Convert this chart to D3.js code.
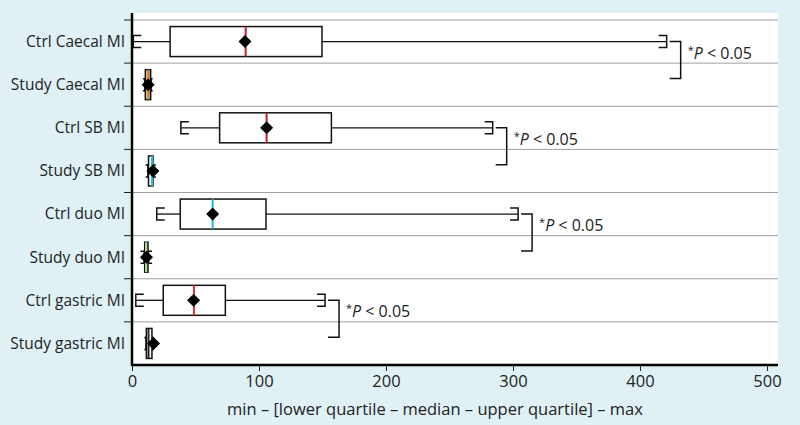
<!DOCTYPE html>
<html>
<head>
<meta charset="utf-8">
<script src="https://cdn.jsdelivr.net/npm/d3@7"></script>
<style>
  html, body { margin: 0; padding: 0; background: #dff1f5; }
  svg { display: block; font-family: "Open Sans", sans-serif; }
</style>
</head>
<body>
<svg id="chart" width="800" height="425"></svg>
<script>
const categories = [
  "Ctrl Caecal MI", "Study Caecal MI", "Ctrl SB MI", "Study SB MI",
  "Ctrl duo MI", "Study duo MI", "Ctrl gastric MI", "Study gastric MI",
];
const minValues = [1, 10, 38.5, 12.5, 19.5, 9.5, 3, 11];
const q1Values = [30, 10.5, 69, 13, 38, 10, 24.6, 11.3];
const medianValues = [89.5, 13, 106, 15.7, 63.5, 11, 48.8, 13];
const q3Values = [149.6, 14.7, 157, 16.5, 105.5, 12.6, 73.5, 15.7];
const maxValues = [421, 15, 284, 17, 304, 13, 152, 16];
const meanValues = [89, 12.7, 106, 16.5, 63.5, 11.4, 48.5, 17];
const xTicks = [0, 100, 200, 300, 400, 500];
const xTitle = "min – [lower quartile – median – upper quartile] – max";
// pairs that get a significance bracket: [ctrl row, study row]
const sigPairs = [
  ["Ctrl Caecal MI", "Study Caecal MI"],
  ["Ctrl SB MI", "Study SB MI"],
  ["Ctrl duo MI", "Study duo MI"],
  ["Ctrl gastric MI", "Study gastric MI"],
];

const medianColor = {
  "Ctrl Caecal MI": "#b8262b", "Study Caecal MI": "#b8762b",
  "Ctrl SB MI": "#b8262b", "Study SB MI": "#2ec4d8",
  "Ctrl duo MI": "#2ab4cc", "Study duo MI": "#a9d88e",
  "Ctrl gastric MI": "#e0303a", "Study gastric MI": "#222",
};
const boxFill = {
  "Study Caecal MI": "#f4c08c",
  "Study duo MI": "#e2f3d6",
};

const rows = categories.map((name, i) => ({
  name,
  min: minValues[i], q1: q1Values[i], median: medianValues[i],
  q3: q3Values[i], max: maxValues[i], mean: meanValues[i],
}));
const byName = new Map(rows.map((d) => [d.name, d]));

const plot = { left: 132, right: 778, top: 13, bottom: 365, bandTop: 20 };

const svg = d3.select("#chart");

const x = d3.scaleLinear().domain([0, 500]).range([132, 767]);
const y = d3.scaleBand().domain(categories).range([plot.bandTop, plot.bottom]).paddingInner(0);
const bw = y.bandwidth();
const cy = (name) => y(name) + bw / 2;
const boxH = 30;
const capH = 6;
const capW = 8;

svg.append("rect")
  .attr("x", plot.left).attr("y", plot.top)
  .attr("width", plot.right - plot.left).attr("height", plot.bottom - plot.top)
  .attr("fill", "#fff");

// grid lines at band edges
svg.append("g")
  .selectAll("line")
  .data(categories)
  .join("line")
  .attr("x1", plot.left).attr("x2", plot.right)
  .attr("y1", (d) => y(d)).attr("y2", (d) => y(d))
  .attr("stroke", "#a0a0a0").attr("stroke-width", 1);

// y ticks + labels
const yAxis = svg.append("g");
yAxis.selectAll("line")
  .data(categories)
  .join("line")
  .attr("x1", plot.left - 8).attr("x2", plot.left)
  .attr("y1", (d) => y(d)).attr("y2", (d) => y(d))
  .attr("stroke", "#222").attr("stroke-width", 1);
yAxis.selectAll("text")
  .data(categories)
  .join("text")
  .attr("x", plot.left - 7)
  .attr("y", (d) => cy(d))
  .attr("dy", "0.35em")
  .attr("text-anchor", "end")
  .style("font-size", "15.5px")
  .style("fill", "#222")
  .text((d) => d);

// x axis
const xAxis = svg.append("g")
  .attr("transform", `translate(0, ${plot.bottom})`)
  .call(d3.axisBottom(x).tickValues(xTicks).tickSize(6).tickSizeOuter(0));
xAxis.select(".domain").remove();
xAxis.selectAll(".tick line").attr("stroke", "#222");
xAxis.selectAll(".tick text")
  .attr("y", 10)
  .style("font-family", "\"Open Sans\", sans-serif")
  .style("font-size", "16.5px")
  .style("fill", "#222");

svg.append("text")
  .attr("x", (x(0) + plot.right) / 2 - 20)
  .attr("y", 415)
  .attr("text-anchor", "middle")
  .style("font-size", "16.5px")
  .style("fill", "#222")
  .text(xTitle);

// boxes
const boxes = svg.append("g")
  .selectAll("g")
  .data(rows)
  .join("g")
  .attr("transform", (d) => `translate(0, ${cy(d.name)})`);

boxes.append("line")
  .attr("x1", (d) => x(d.min)).attr("x2", (d) => x(d.q1))
  .attr("stroke", "#111").attr("stroke-width", 1.3);
boxes.append("line")
  .attr("x1", (d) => x(d.q3)).attr("x2", (d) => x(d.max))
  .attr("stroke", "#111").attr("stroke-width", 1.3);

// bracket-shaped caps
boxes.append("path")
  .attr("d", (d) => `M${x(d.min) + capW},${-capH}H${x(d.min)}V${capH}H${x(d.min) + capW}`)
  .attr("fill", "none").attr("stroke", "#111").attr("stroke-width", 1.5);
boxes.append("path")
  .attr("d", (d) => `M${x(d.max) - capW},${-capH}H${x(d.max)}V${capH}H${x(d.max) - capW}`)
  .attr("fill", "none").attr("stroke", "#111").attr("stroke-width", 1.5);

boxes.append("rect")
  .attr("x", (d) => x(d.q1))
  .attr("y", -boxH / 2)
  .attr("width", (d) => x(d.q3) - x(d.q1))
  .attr("height", boxH)
  .attr("fill", (d) => boxFill[d.name] || "#fff")
  .attr("stroke", "#111").attr("stroke-width", 1.5);

boxes.append("line")
  .attr("x1", (d) => x(d.median)).attr("x2", (d) => x(d.median))
  .attr("y1", -boxH / 2).attr("y2", boxH / 2)
  .attr("stroke", (d) => medianColor[d.name]).attr("stroke-width", 2);

boxes.append("path")
  .attr("d", (d) => {
    const m = x(d.mean), r = 6.5;
    return `M${m},${-r}L${m + r},0L${m},${r}L${m - r},0Z`;
  })
  .attr("fill", "#000");

// significance brackets
const sig = svg.append("g")
  .selectAll("g")
  .data(sigPairs)
  .join("g");

sig.append("path")
  .attr("d", ([ctrl]) => {
    const d = byName.get(ctrl);
    const x0 = x(d.max) + 3, x1 = x(d.max) + 14;
    const y0 = cy(ctrl), y1 = cy(ctrl) + 37;
    return `M${x0},${y0}H${x1}V${y1}H${x0}`;
  })
  .attr("fill", "none").attr("stroke", "#111").attr("stroke-width", 1.5);

const label = sig.append("text")
  .attr("x", ([ctrl]) => x(byName.get(ctrl).max) + 21)
  .attr("y", ([ctrl]) => cy(ctrl) + 17)
  .style("font-size", "16px")
  .style("fill", "#222");
label.append("tspan").attr("dy", -5).style("font-size", "11px").text("*");
label.append("tspan").attr("dy", 5).style("font-style", "italic").text("P");
label.append("tspan").text(" < 0.05");

// axis lines on top
svg.append("line")
  .attr("x1", plot.left).attr("x2", plot.left)
  .attr("y1", plot.top).attr("y2", plot.bottom + 1)
  .attr("stroke", "#000").attr("stroke-width", 2.5);
svg.append("line")
  .attr("x1", plot.left - 1).attr("x2", plot.right)
  .attr("y1", plot.bottom).attr("y2", plot.bottom)
  .attr("stroke", "#000").attr("stroke-width", 2.5);
</script>
</body>
</html>
